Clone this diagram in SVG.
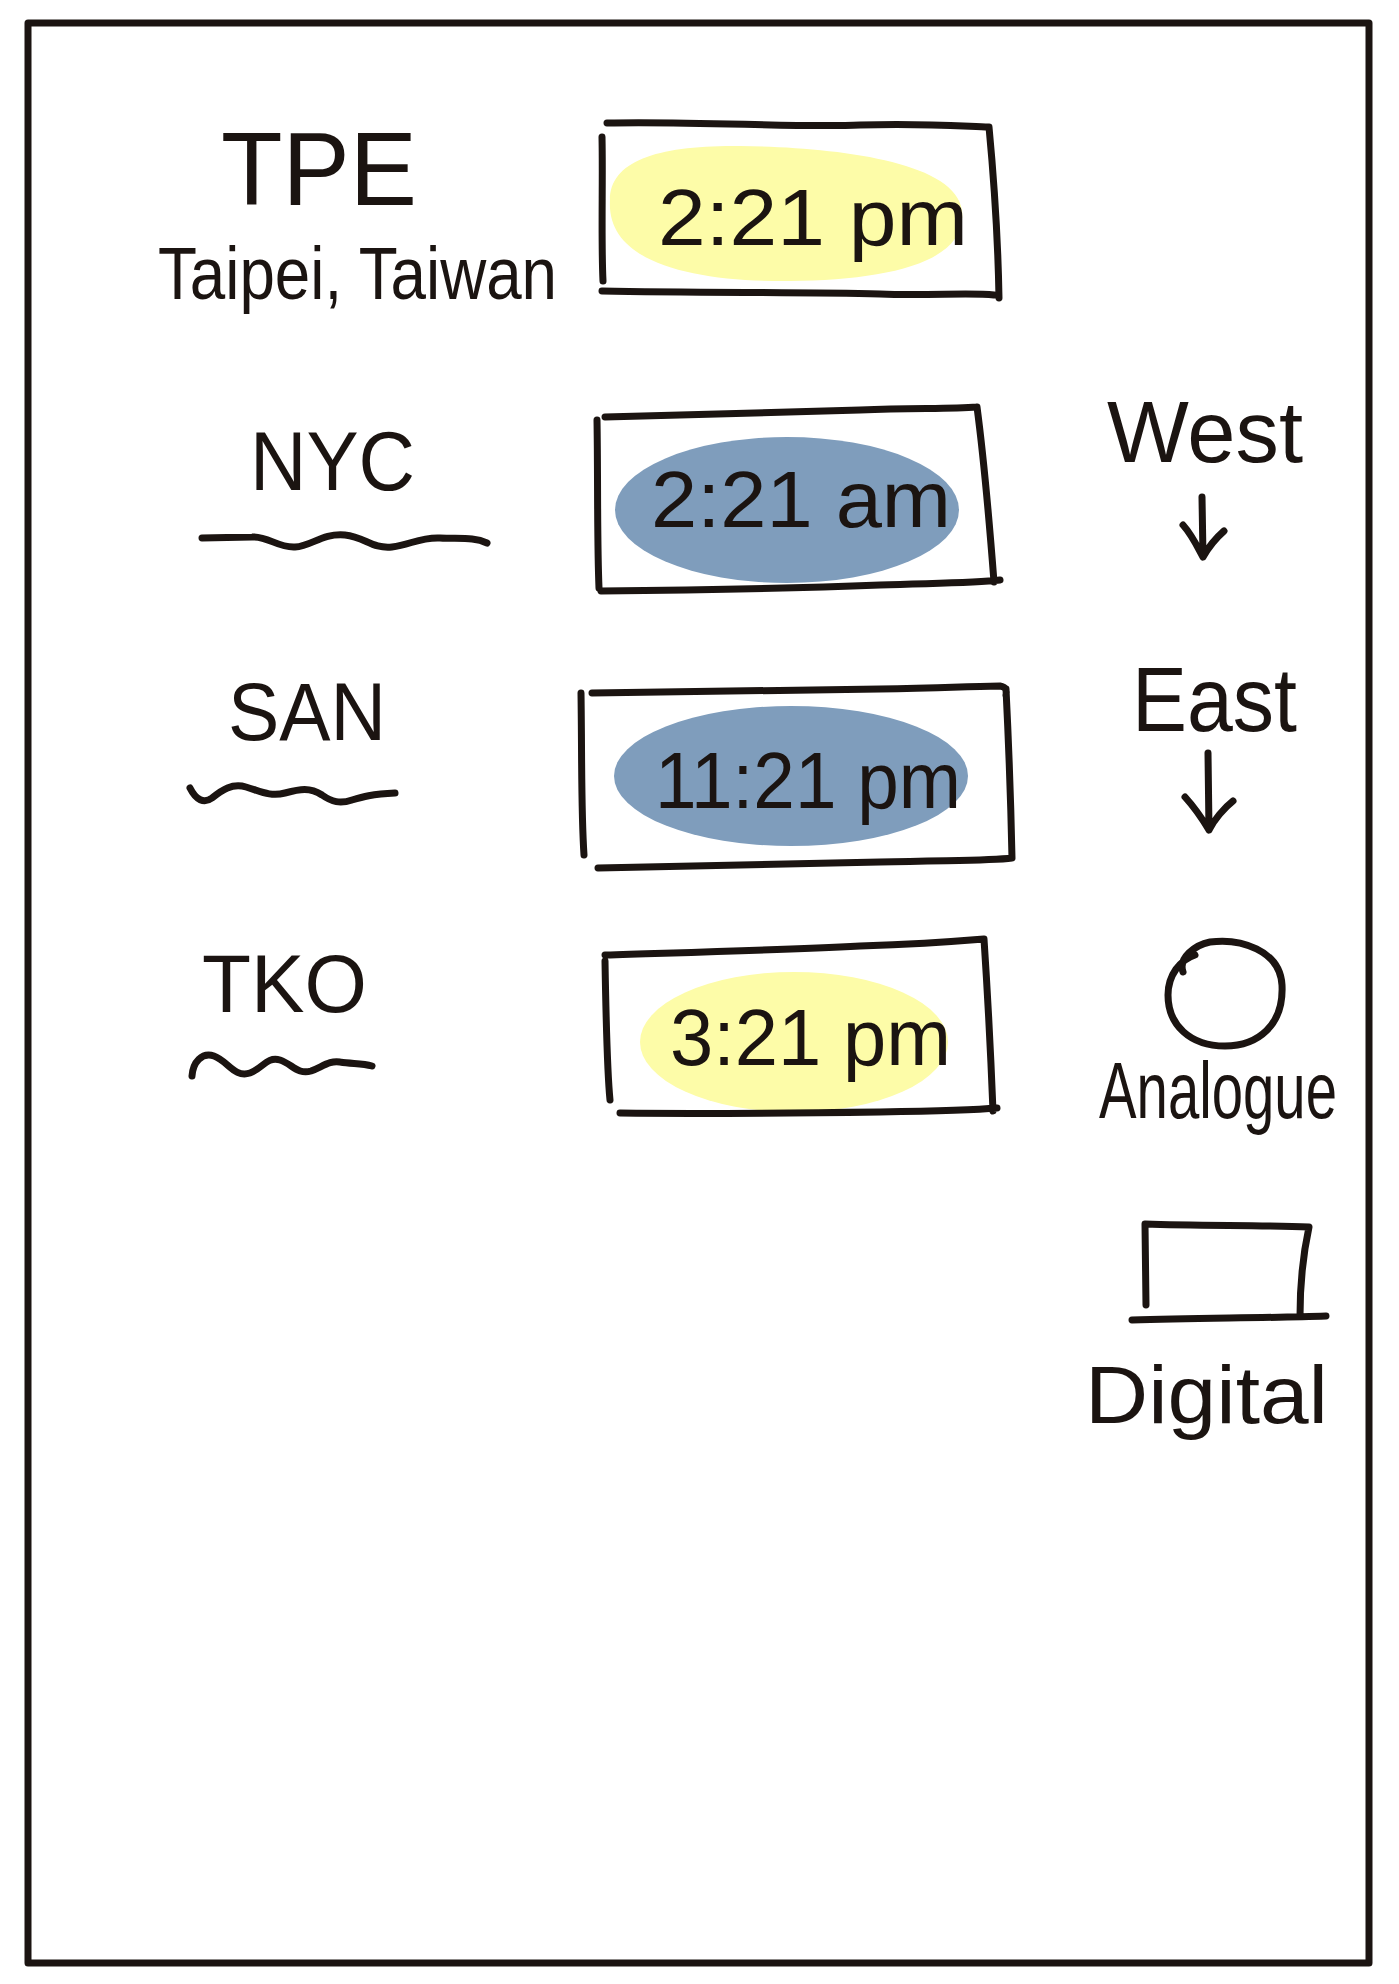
<svg xmlns="http://www.w3.org/2000/svg" width="1399" height="1984" viewBox="0 0 1399 1984">
<style>
.ink{fill:none;stroke:#1b1411;stroke-width:7;stroke-linecap:round;stroke-linejoin:round}
.hand{font-family:"Liberation Sans","Noto Sans",sans-serif;fill:#1b1411}
.yellow{fill:#fdfca8}
.blue{fill:#7f9dbc}
</style>
<rect width="1399" height="1984" fill="#fff"/>
<g id="frame">
<path class="ink" stroke-width="5" d="M28,23 L1369,23 L1369,1963 L28,1963 Z"/>
</g>

<g id="tpe-label">
<text class="hand" x="221" y="205" font-size="104" textLength="196" lengthAdjust="spacingAndGlyphs">TPE</text>
<text class="hand" x="158" y="299" font-size="74" textLength="399" lengthAdjust="spacingAndGlyphs">Taipei, Taiwan</text>
</g>
<g id="tpe-clock">
<path class="yellow" d="M610,200 C610,160 660,145 740,146 C830,147 955,160 962,210 C968,262 890,280 790,281 C690,282 606,262 610,200 Z"/>
<path class="ink" d="M607,123 C700,121 800,128 860,125 C920,123 960,126 989,127 M989,127 C994,180 998,240 999,298 M602,291 C700,293 800,292 880,294 C930,296 970,292 994,295 M602,137 C603,180 601,240 603,281"/>
<text class="hand" x="658" y="245" font-size="80" textLength="310" lengthAdjust="spacingAndGlyphs">2:21 pm</text>
</g>

<g id="nyc-label">
<text class="hand" x="250" y="490" font-size="84" textLength="165" lengthAdjust="spacingAndGlyphs">NYC</text>
<path class="ink" d="M202,538 L252,537 C268,536 278,548 295,547 C312,546 322,533 345,535 C365,537 372,549 392,547 C410,545 420,537 440,538 C460,539 474,537 487,543"/>
</g>
<g id="nyc-clock">
<ellipse class="blue" cx="787" cy="510" rx="172" ry="73"/>
<path class="ink" d="M605,417 C700,414 780,412 860,410 C920,408 950,409 977,407 M977,407 C984,460 990,530 994,582 M601,591 C700,590 800,588 880,585 C940,583 975,583 1000,580 M597,420 C598,480 597,540 599,588"/>
<text class="hand" x="651" y="527" font-size="80" textLength="300" lengthAdjust="spacingAndGlyphs">2:21 am</text>
</g>

<g id="san-label">
<text class="hand" x="228" y="740" font-size="82" textLength="158" lengthAdjust="spacingAndGlyphs">SAN</text>
<path class="ink" d="M190,788 C196,800 204,804 212,798 C222,790 232,783 246,787 C260,791 270,797 285,793 C300,789 310,787 322,795 C332,802 340,804 352,800 C362,797 372,794 395,793"/>
</g>
<g id="san-clock">
<ellipse class="blue" cx="791" cy="776" rx="177" ry="70"/>
<path class="ink" d="M592,693 C700,692 800,690 880,689 C940,688 980,686 1000,686 C1006,687 1007,690 1006,695 M1006,689 C1009,750 1011,810 1012,858 M598,868 C700,866 800,864 880,862 C950,860 990,861 1012,858 M581,693 C582,760 581,810 584,855"/>
<text class="hand" x="655" y="808" font-size="80" textLength="306" lengthAdjust="spacingAndGlyphs">11:21 pm</text>
</g>

<g id="tko-label">
<text class="hand" x="202" y="1012" font-size="82" textLength="165" lengthAdjust="spacingAndGlyphs">TKO</text>
<path class="ink" d="M192,1076 C193,1062 202,1052 214,1056 C228,1061 234,1078 250,1073 C262,1069 267,1056 280,1060 C292,1064 298,1075 311,1071 C322,1067 330,1060 340,1062 C352,1064 362,1063 372,1066"/>
</g>
<g id="tko-clock">
<ellipse class="yellow" cx="794" cy="1042" rx="154" ry="70"/>
<path class="ink" d="M605,955 C700,952 780,950 860,946 C920,944 960,941 984,939 M984,939 C988,1000 991,1060 993,1111 M620,1113 C700,1114 800,1113 880,1112 C940,1111 975,1110 997,1108 M605,961 C606,1020 607,1070 610,1100"/>
<text class="hand" x="670" y="1065" font-size="80" textLength="281" lengthAdjust="spacingAndGlyphs">3:21 pm</text>
</g>

<g id="west">
<text class="hand" x="1107" y="462" font-size="88" textLength="196" lengthAdjust="spacingAndGlyphs">West</text>
</g>
<g id="east">
<text class="hand" x="1132" y="731" font-size="90" textLength="165" lengthAdjust="spacingAndGlyphs">East</text>
</g>
<g id="analogue">
<path class="ink" d="M1183,972 C1178,958 1195,945 1210,942 C1240,938 1280,950 1282,985 C1284,1025 1258,1046 1225,1046 C1190,1046 1168,1025 1168,995 C1168,975 1180,960 1195,955"/>
<text class="hand" transform="translate(1099,1118) scale(1,1.3)" x="0" y="0" font-size="62" textLength="238" lengthAdjust="spacingAndGlyphs">Analogue</text>
</g>
<g id="digital">
<path class="ink" d="M1145,1224 C1200,1226 1260,1225 1309,1227 C1304,1250 1300,1280 1300,1316 M1145,1224 L1146,1305 M1132,1320 C1200,1318 1270,1318 1326,1316"/>
<text class="hand" x="1085" y="1423" font-size="82" textLength="243" lengthAdjust="spacingAndGlyphs">Digital</text>
</g>

<g id="connectors">
<path class="ink" d="M1202,497 L1203,557 M1183,525 C1192,535 1198,548 1203,557 C1208,548 1216,538 1224,531"/>
<path class="ink" d="M1208,753 L1209,830 M1185,797 C1195,808 1203,820 1209,830 C1214,820 1224,808 1233,801"/>
</g>
</svg>
